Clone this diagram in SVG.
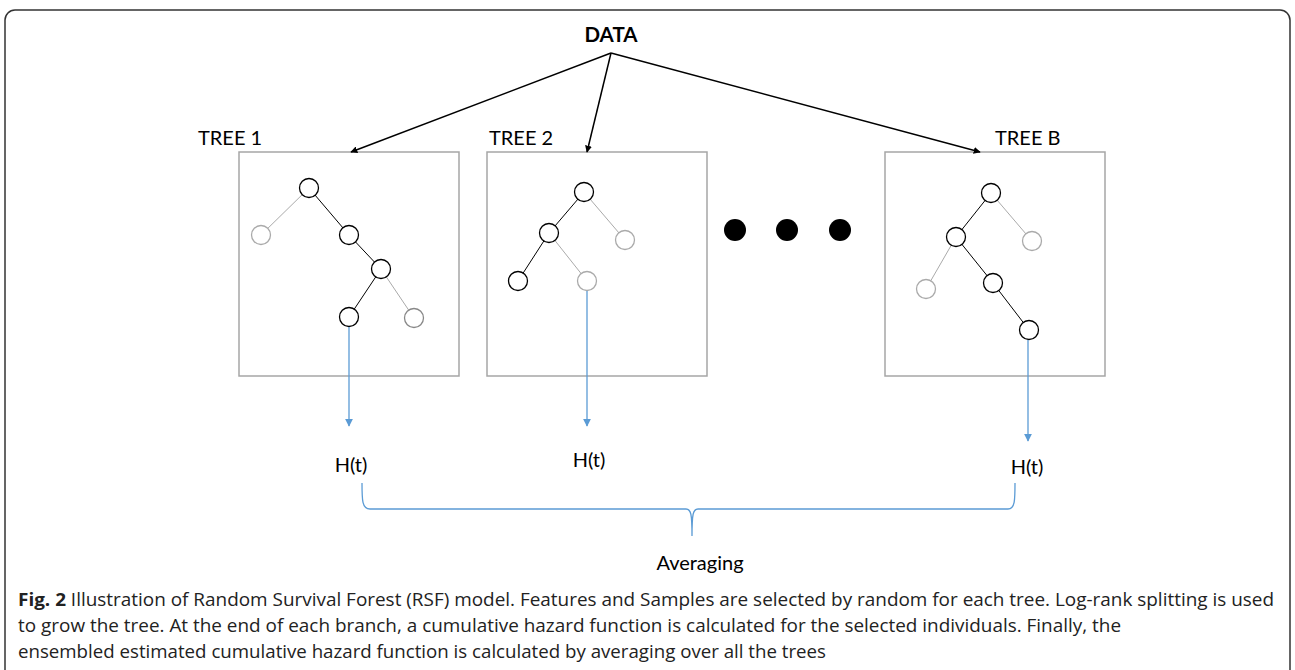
<svg xmlns="http://www.w3.org/2000/svg" width="1295" height="670" viewBox="0 0 1295 670">
<style>
.frame{fill:#fff;stroke:#333;stroke-width:1.5}
.box{fill:#fff;stroke:#a6a6a6;stroke-width:1.5}
.lbl{font-family:Lato,"Liberation Sans",sans-serif;font-size:20px;fill:#000}
.ht{font-family:Lato,"Liberation Sans",sans-serif;font-size:20px;fill:#000;text-anchor:middle}
.n{fill:#fff;stroke:#000;stroke-width:1.3}
.g{fill:#fff;stroke:#aaa;stroke-width:1.3}
.eb{stroke:#000;stroke-width:1}
.eg{stroke:#aaa;stroke-width:1}
.arr{stroke:#000;stroke-width:1.5;fill:none}
.blue{stroke:#5b9bd5;stroke-width:1.3;fill:none}
.cap{font-family:"Open Sans","Liberation Sans",sans-serif;font-size:17.5px;fill:#222}
</style>
<defs>
<marker id="ah" viewBox="0 0 10 10" refX="9" refY="5" markerWidth="7" markerHeight="7" orient="auto" markerUnits="userSpaceOnUse"><path d="M0,0 L10,5 L0,10 z" fill="#000"/></marker>
<marker id="bh" viewBox="0 0 10 10" refX="9" refY="5" markerWidth="8" markerHeight="8" orient="auto" markerUnits="userSpaceOnUse"><path d="M0,0 L10,5 L0,10 z" fill="#5b9bd5"/></marker>
</defs>
<rect class="frame" x="5" y="10" width="1285" height="680" rx="10"/>

<g id="data"><text x="611" y="42" text-anchor="middle" font-family="Lato,'Liberation Sans',sans-serif" font-size="20.5" font-weight="bold">DATA</text></g>

<g id="tree1">
<rect class="box" x="239" y="152" width="220" height="224"/>
<text class="lbl" x="198" y="145">TREE 1</text>
<line class="eg" x1="309" y1="188" x2="261" y2="235"/>
<line class="eb" x1="309" y1="188" x2="349" y2="235"/>
<line class="eb" x1="349" y1="235" x2="381" y2="269"/>
<line class="eb" x1="381" y1="269" x2="349" y2="317"/>
<line class="eg" x1="381" y1="269" x2="414" y2="318"/>
<circle class="n" cx="309" cy="188" r="9.5"/>
<circle class="g" cx="261" cy="235" r="9.5"/>
<circle class="n" cx="349" cy="235" r="9.5"/>
<circle class="n" cx="381" cy="269" r="9.5"/>
<circle class="n" cx="349" cy="317" r="9.5"/>
<circle class="g" cx="414" cy="318" r="9.5" style="stroke:#888"/>
</g>

<g id="tree2">
<rect class="box" x="487" y="152" width="220" height="224"/>
<text class="lbl" x="489" y="145">TREE 2</text>
<line class="eb" x1="584" y1="192" x2="549" y2="233"/>
<line class="eg" x1="584" y1="192" x2="625" y2="240"/>
<line class="eb" x1="549" y1="233" x2="518" y2="281"/>
<line class="eg" x1="549" y1="233" x2="587" y2="281"/>
<circle class="n" cx="584" cy="192" r="9.5"/>
<circle class="n" cx="549" cy="233" r="9.5"/>
<circle class="g" cx="625" cy="240" r="9.5"/>
<circle class="n" cx="518" cy="281" r="9.5"/>
<circle class="g" cx="587" cy="281" r="9.5"/>
</g>

<g id="dots">
<circle cx="735" cy="230" r="11" fill="#000"/>
<circle cx="787" cy="230" r="11" fill="#000"/>
<circle cx="840" cy="230" r="11" fill="#000"/>
</g>

<g id="treeB">
<rect class="box" x="885" y="152" width="220" height="224"/>
<text class="lbl" x="995" y="145">TREE B</text>
<line class="eb" x1="991" y1="193" x2="956" y2="237"/>
<line class="eg" x1="991" y1="193" x2="1032" y2="241"/>
<line class="eg" x1="956" y1="237" x2="926" y2="289"/>
<line class="eb" x1="956" y1="237" x2="993" y2="283"/>
<line class="eb" x1="993" y1="283" x2="1029" y2="330"/>
<circle class="n" cx="991" cy="193" r="9.5"/>
<circle class="n" cx="956" cy="237" r="9.5"/>
<circle class="g" cx="1032" cy="241" r="9.5"/>
<circle class="g" cx="926" cy="289" r="9.5"/>
<circle class="n" cx="993" cy="283" r="9.5"/>
<circle class="n" cx="1029" cy="330" r="9.5"/>
</g>

<g id="connectors">
<line class="arr" x1="611" y1="53" x2="351" y2="152" marker-end="url(#ah)"/>
<line class="arr" x1="611" y1="53" x2="587" y2="152" marker-end="url(#ah)"/>
<line class="arr" x1="611" y1="53" x2="980" y2="152" marker-end="url(#ah)"/>
<line class="blue" x1="349" y1="327" x2="349" y2="426" marker-end="url(#bh)"/>
<line class="blue" x1="587" y1="291" x2="587" y2="426" marker-end="url(#bh)"/>
<line class="blue" x1="1028" y1="340" x2="1028" y2="441" marker-end="url(#bh)"/>
<path class="blue" d="M362,483 C362,500 362,509 370,509 L686,509 C691,509 692,514 692,536 C692,514 693,509 698,509 L1008,509 C1015,509 1015,500 1015,483"/>
</g>

<g id="labels">
<text class="ht" x="351" y="472">H(t)</text>
<text class="ht" x="589" y="467">H(t)</text>
<text class="ht" x="1027" y="474">H(t)</text>
<text class="ht" x="700" y="570">Averaging</text>
</g>

<g id="caption">
<text class="cap" x="18" y="606" textLength="1256" lengthAdjust="spacingAndGlyphs"><tspan font-weight="bold">Fig. 2</tspan> Illustration of Random Survival Forest (RSF) model. Features and Samples are selected by random for each tree. Log-rank splitting is used</text>
<text class="cap" x="18" y="632" textLength="1103" lengthAdjust="spacingAndGlyphs">to grow the tree. At the end of each branch, a cumulative hazard function is calculated for the selected individuals. Finally, the</text>
<text class="cap" x="18" y="658" textLength="808" lengthAdjust="spacingAndGlyphs">ensembled estimated cumulative hazard function is calculated by averaging over all the trees</text>
</g>
</svg>
